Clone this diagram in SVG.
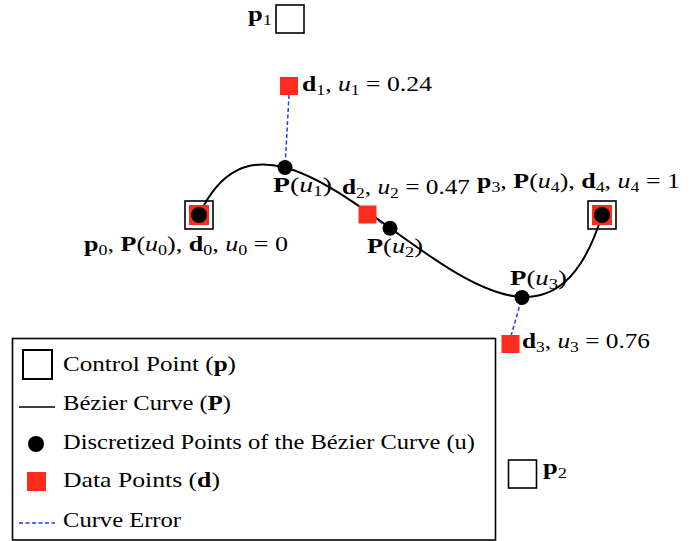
<svg xmlns="http://www.w3.org/2000/svg" width="698" height="541" viewBox="0 0 698 541">
<style>
text{font-family:"Liberation Serif","DejaVu Serif",serif;font-size:21px;fill:#000}
.lg{font-size:21.5px}
.b{font-weight:bold;font-style:normal}
.i{font-style:italic}
.s{font-size:14.5px}
.cp{fill:none;stroke:#000;stroke-width:1.6}
.dp{fill:#ff2b1c}
.pt{fill:#000}
.err{stroke:#1f3dff;stroke-width:1.5;stroke-dasharray:4 2.5;fill:none}
.crv{fill:none;stroke:#000;stroke-width:2}
</style>
<rect width="698" height="541" fill="#fff"/>
<g id="curve"><path class="crv" d="M199,215 C290,19 522.5,474 602,215"/></g>
<g id="connectors">
<line class="err" x1="289" y1="95" x2="285" y2="167.5"/>
<line class="err" x1="367.5" y1="214.5" x2="390.3" y2="228.3"/>
<line class="err" x1="511" y1="336" x2="522.2" y2="297"/>
</g>
<g id="p0">
<rect class="cp" x="185" y="201" width="28" height="28"/>
<rect class="dp" x="189" y="205" width="20" height="20"/>
<circle class="pt" cx="199" cy="215" r="8"/>
<text x="84" y="251" textLength="204" lengthAdjust="spacingAndGlyphs"><tspan class="b">p</tspan><tspan class="s" dy="4">0</tspan><tspan dy="-4">, </tspan><tspan class="b">P</tspan>(<tspan class="i">u</tspan><tspan class="s" dy="4">0</tspan><tspan dy="-4">), </tspan><tspan class="b">d</tspan><tspan class="s" dy="4">0</tspan><tspan dy="-4">, </tspan><tspan class="i">u</tspan><tspan class="s" dy="4">0</tspan><tspan dy="-4"> = 0</tspan></text>
</g>
<g id="p1">
<rect class="cp" x="276" y="5" width="28" height="28"/>
<text x="248" y="21" textLength="24" lengthAdjust="spacingAndGlyphs"><tspan class="b">p</tspan><tspan class="s" dy="4">1</tspan></text>
</g>
<g id="p2">
<rect class="cp" x="508.5" y="460" width="28" height="28"/>
<text x="543" y="474" textLength="24" lengthAdjust="spacingAndGlyphs"><tspan class="b">p</tspan><tspan class="s" dy="4">2</tspan></text>
</g>
<g id="p3">
<rect class="cp" x="588" y="201" width="28" height="28"/>
<rect class="dp" x="592" y="205" width="20" height="20"/>
<circle class="pt" cx="602" cy="215" r="8"/>
<text x="477" y="188" textLength="203" lengthAdjust="spacingAndGlyphs"><tspan class="b">p</tspan><tspan class="s" dy="4">3</tspan><tspan dy="-4">, </tspan><tspan class="b">P</tspan>(<tspan class="i">u</tspan><tspan class="s" dy="4">4</tspan><tspan dy="-4">), </tspan><tspan class="b">d</tspan><tspan class="s" dy="4">4</tspan><tspan dy="-4">, </tspan><tspan class="i">u</tspan><tspan class="s" dy="4">4</tspan><tspan dy="-4"> = 1</tspan></text>
</g>
<g id="d1">
<rect class="dp" x="280" y="77" width="18" height="18"/>
<text x="302" y="90.5" textLength="130" lengthAdjust="spacingAndGlyphs"><tspan class="b">d</tspan><tspan class="s" dy="4">1</tspan><tspan dy="-4">, </tspan><tspan class="i">u</tspan><tspan class="s" dy="4">1</tspan><tspan dy="-4"> = 0.24</tspan></text>
</g>
<g id="d2">
<rect class="dp" x="358.5" y="205.5" width="18" height="18"/>
<text x="342" y="193.5" textLength="128" lengthAdjust="spacingAndGlyphs"><tspan class="b">d</tspan><tspan class="s" dy="4">2</tspan><tspan dy="-4">, </tspan><tspan class="i">u</tspan><tspan class="s" dy="4">2</tspan><tspan dy="-4"> = 0.47</tspan></text>
</g>
<g id="d3">
<rect class="dp" x="501.5" y="335" width="18" height="18"/>
<text x="522" y="347.5" textLength="128" lengthAdjust="spacingAndGlyphs"><tspan class="b">d</tspan><tspan class="s" dy="4">3</tspan><tspan dy="-4">, </tspan><tspan class="i">u</tspan><tspan class="s" dy="4">3</tspan><tspan dy="-4"> = 0.76</tspan></text>
</g>
<g id="Pu1">
<circle class="pt" cx="285" cy="167.5" r="7.5"/>
<text x="273" y="192" textLength="59" lengthAdjust="spacingAndGlyphs"><tspan class="b">P</tspan>(<tspan class="i">u</tspan><tspan class="s" dy="4">1</tspan><tspan dy="-4">)</tspan></text>
</g>
<g id="Pu2">
<circle class="pt" cx="390" cy="228.3" r="7.5"/>
<text x="367" y="253" textLength="56" lengthAdjust="spacingAndGlyphs"><tspan class="b">P</tspan>(<tspan class="i">u</tspan><tspan class="s" dy="4">2</tspan><tspan dy="-4">)</tspan></text>
</g>
<g id="Pu3">
<circle class="pt" cx="522" cy="297.5" r="7.5"/>
<text x="510" y="285" textLength="57" lengthAdjust="spacingAndGlyphs"><tspan class="b">P</tspan>(<tspan class="i">u</tspan><tspan class="s" dy="4">3</tspan><tspan dy="-4">)</tspan></text>
</g>
<g id="legend">
<rect x="12.5" y="338.5" width="483" height="201.5" fill="#fff" stroke="#000" stroke-width="1.6"/>
<rect x="23" y="350" width="29" height="29" fill="none" stroke="#000" stroke-width="2"/>
<text class="lg" x="63" y="370.5" textLength="173" lengthAdjust="spacingAndGlyphs">Control Point (<tspan class="b">p</tspan>)</text>
<line x1="19" y1="407" x2="55" y2="407" stroke="#000" stroke-width="1.5"/>
<text class="lg" x="63" y="410" textLength="168" lengthAdjust="spacingAndGlyphs">Bézier Curve (<tspan class="b">P</tspan>)</text>
<circle class="pt" cx="36" cy="444" r="8"/>
<text class="lg" x="63" y="449" textLength="412" lengthAdjust="spacingAndGlyphs">Discretized Points of the Bézier Curve (u)</text>
<rect class="dp" x="27" y="472" width="19" height="19"/>
<text class="lg" x="63" y="487" textLength="157" lengthAdjust="spacingAndGlyphs">Data Points (<tspan class="b">d</tspan>)</text>
<line class="err" x1="19" y1="523" x2="55" y2="523"/>
<text class="lg" x="63" y="527" textLength="118" lengthAdjust="spacingAndGlyphs">Curve Error</text>
</g>
</svg>
